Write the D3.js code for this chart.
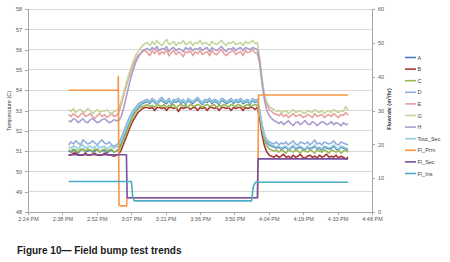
<!DOCTYPE html>
<html><head><meta charset="utf-8">
<script src="https://cdn.jsdelivr.net/npm/d3@7/dist/d3.min.js"></script>
<style>body{margin:0;background:#fff;}svg{display:block;font-family:"Liberation Sans",Arial,sans-serif;}</style>
</head><body><svg id="c" width="450" height="262"></svg>
<script>
// minutes after 2:24 PM; temperature series sampled once a minute starting at minute 17
const startMinute = 17;
const xTickLabels = ["2:24 PM","2:38 PM","2:52 PM","3:07 PM","3:21 PM","3:36 PM","3:50 PM","4:04 PM","4:19 PM","4:33 PM","4:48 PM"];
const leftTicks = [48,49,50,51,52,53,54,55,56,57,58];
const rightTicks = [0,10,20,30,40,50,60];

const A = [51.00,50.95,51.05,51.00,50.90,51.05,51.10,50.95,51.00,51.05,
50.95,51.00,51.10,50.95,51.00,51.05,50.90,51.00,51.05,50.95,
51.00,51.10,51.35,51.65,51.95,52.25,52.55,52.80,53.00,53.15,
53.25,53.35,53.40,53.45,53.35,53.50,53.40,53.30,53.45,53.50,
53.40,53.35,53.50,53.30,53.45,53.40,53.50,53.35,53.45,53.30,
53.50,53.40,53.35,53.45,53.55,53.40,53.30,53.45,53.40,53.50,
53.35,53.45,53.40,53.30,53.50,53.45,53.35,53.40,53.50,53.35,
53.45,53.40,53.50,53.35,53.40,53.45,53.30,53.50,53.40,53.45,
52.90,52.20,51.70,51.40,51.30,51.25,51.20,51.15,51.20,51.10,
51.15,51.20,51.05,51.15,51.25,51.10,51.15,51.20,51.10,51.05,
51.20,51.10,51.15,51.25,51.10,51.15,51.05,51.20,51.15,51.10,
51.15,51.25,51.10,51.05,51.20,51.15,51.10,51.05];
const B = [50.80,50.80,50.90,50.90,50.80,50.80,50.80,50.90,50.80,50.80,
50.85,50.90,50.80,50.80,50.80,50.90,50.85,50.80,50.80,50.75,
50.80,50.85,51.05,51.35,51.65,51.95,52.25,52.50,52.70,52.90,
53.00,53.10,53.15,53.15,53.10,53.15,53.00,53.15,53.15,53.10,
53.15,53.00,53.15,53.15,53.10,53.15,52.95,53.15,53.10,53.15,
53.15,53.05,53.15,53.15,53.00,53.15,53.10,53.15,53.00,53.15,
53.15,53.10,53.15,53.00,53.15,53.15,53.10,53.15,53.00,53.15,
53.10,53.15,53.15,53.00,53.15,53.10,53.15,53.15,53.05,53.15,
52.60,51.80,51.25,50.95,50.80,50.75,50.70,50.80,50.70,50.75,
50.85,50.70,50.75,50.65,50.80,50.70,50.75,50.85,50.70,50.65,
50.75,50.80,50.70,50.75,50.65,50.80,50.70,50.75,50.85,50.70,
50.75,50.70,50.80,50.65,50.75,50.70,50.60,50.70];
const C = [51.05,51.00,51.10,51.05,50.95,51.10,51.05,51.00,51.10,51.05,
51.00,51.10,51.05,50.95,51.05,51.10,51.00,51.05,51.10,50.95,
51.00,51.05,51.25,51.55,51.85,52.15,52.45,52.70,52.90,53.05,
53.15,53.20,53.25,53.30,53.20,53.25,53.15,53.30,53.25,53.20,
53.30,53.15,53.25,53.20,53.30,53.10,53.25,53.30,53.20,53.25,
53.15,53.30,53.25,53.20,53.30,53.25,53.15,53.25,53.30,53.20,
53.25,53.30,53.15,53.25,53.20,53.30,53.25,53.15,53.30,53.25,
53.20,53.30,53.25,53.15,53.25,53.30,53.20,53.25,53.30,53.25,
52.80,52.05,51.55,51.25,51.10,51.05,51.00,51.05,50.95,51.05,
51.00,50.90,51.05,51.00,50.95,51.05,51.00,50.90,51.05,51.00,
50.95,51.05,51.00,50.90,51.05,51.00,50.95,51.05,51.00,50.90,
51.05,51.00,50.95,51.05,50.90,51.00,51.05,50.95];
const D = [51.30,51.45,51.35,51.50,51.40,51.30,51.55,51.45,51.35,51.40,
51.50,51.40,51.30,51.45,51.55,51.40,51.35,51.45,51.30,51.25,
51.30,51.40,51.65,51.95,52.25,52.55,52.80,53.00,53.15,53.30,
53.40,53.45,53.50,53.55,53.45,53.60,53.50,53.40,53.55,53.65,
53.50,53.45,53.60,53.40,53.55,53.50,53.60,53.45,53.55,53.40,
53.60,53.50,53.45,53.55,53.65,53.50,53.40,53.55,53.50,53.60,
53.45,53.55,53.50,53.40,53.60,53.55,53.45,53.50,53.60,53.45,
53.55,53.50,53.60,53.45,53.50,53.55,53.40,53.60,53.50,53.55,
53.00,52.30,51.80,51.55,51.45,51.40,51.35,51.45,51.30,51.40,
51.35,51.45,51.30,51.40,51.50,51.35,51.30,51.45,51.40,51.35,
51.45,51.30,51.40,51.55,51.35,51.40,51.30,51.45,51.40,51.35,
51.40,51.50,51.35,51.30,51.45,51.40,51.35,51.30];
const E = [52.80,52.70,52.85,52.75,52.65,52.80,52.90,52.70,52.75,52.85,
52.70,52.60,52.75,52.85,52.70,52.80,52.65,52.75,52.85,52.70,
52.75,52.90,53.30,53.70,54.15,54.55,54.90,55.25,55.50,55.70,
55.80,55.90,55.95,55.85,55.70,55.95,55.80,56.00,55.75,55.90,
55.80,56.00,55.70,55.85,55.95,55.75,55.90,55.80,55.65,55.90,
55.85,55.95,55.70,55.90,55.80,55.95,55.75,55.85,55.90,55.70,
55.95,55.80,55.75,55.90,56.00,55.80,55.70,55.85,55.90,55.95,
55.75,55.85,55.90,55.70,55.95,55.85,55.90,56.00,55.85,55.80,
55.30,54.40,53.70,53.30,53.05,52.95,52.85,52.80,52.75,52.85,
52.70,52.80,52.65,52.75,52.85,52.70,52.75,52.80,52.65,52.70,
52.80,52.75,52.65,52.85,52.70,52.75,52.80,52.65,52.75,52.80,
52.70,52.85,52.75,52.65,52.80,52.75,52.90,52.75];
const G = [53.05,52.95,53.10,52.90,53.00,53.05,52.90,52.95,53.10,53.00,
52.85,52.95,53.05,52.90,53.00,52.95,53.05,52.90,52.85,52.95,
53.00,53.10,53.45,53.85,54.30,54.70,55.05,55.40,55.70,55.90,
56.05,56.20,56.30,56.35,56.20,56.40,56.25,56.45,56.30,56.20,
56.35,56.50,56.25,56.30,56.40,56.20,56.35,56.30,56.45,56.25,
56.30,56.40,56.20,56.35,56.30,56.45,56.25,56.35,56.30,56.20,
56.40,56.30,56.25,56.35,56.45,56.30,56.20,56.35,56.30,56.40,
56.25,56.30,56.35,56.20,56.40,56.30,56.35,56.45,56.30,56.35,
55.60,54.60,53.80,53.40,53.20,53.10,53.05,52.95,53.00,52.90,
52.95,53.00,52.85,52.95,53.05,52.90,52.95,53.00,52.90,52.85,
53.00,52.95,52.90,53.05,52.95,52.90,53.00,52.85,52.95,53.00,
52.90,53.05,52.95,52.90,53.00,52.95,53.20,53.00];
const H = [52.50,52.45,52.60,52.55,52.40,52.50,52.60,52.45,52.40,52.55,
52.60,52.50,52.40,52.45,52.55,52.60,52.50,52.40,52.45,52.55,
52.50,52.50,52.70,53.10,53.60,54.10,54.60,55.00,55.35,55.60,
55.80,55.95,56.00,56.05,55.95,56.10,56.00,56.15,55.95,56.05,
56.00,56.15,55.90,56.05,56.10,55.95,56.05,56.00,55.90,56.10,
56.00,56.10,55.95,56.05,56.00,56.10,55.95,56.05,56.10,55.90,
56.10,56.00,55.95,56.05,56.15,56.00,55.90,56.05,56.00,56.10,
55.95,56.05,56.10,55.95,56.10,56.05,56.00,56.10,56.05,56.00,
55.40,54.30,53.50,53.00,52.75,52.60,52.50,52.45,52.35,52.45,
52.30,52.40,52.50,52.35,52.25,52.40,52.45,52.30,52.40,52.50,
52.35,52.30,52.45,52.40,52.25,52.35,52.45,52.40,52.30,52.35,
52.45,52.30,52.40,52.35,52.25,52.40,52.30,52.35];
const ToutSec = [51.20,51.15,51.25,51.20,51.10,51.25,51.30,51.15,51.20,51.25,
51.15,51.20,51.30,51.15,51.20,51.25,51.10,51.20,51.25,51.15,
51.20,51.25,51.50,51.80,52.10,52.40,52.65,52.90,53.05,53.20,
53.30,53.40,53.45,53.50,53.40,53.55,53.45,53.35,53.50,53.55,
53.45,53.40,53.55,53.35,53.50,53.45,53.55,53.40,53.50,53.35,
53.55,53.45,53.40,53.50,53.60,53.45,53.35,53.50,53.45,53.55,
53.40,53.50,53.45,53.35,53.55,53.50,53.40,53.45,53.55,53.40,
53.50,53.45,53.55,53.40,53.45,53.50,53.35,53.55,53.45,53.50,
52.95,52.25,51.75,51.50,51.35,51.30,51.25,51.20,51.25,51.15,
51.20,51.25,51.10,51.20,51.30,51.15,51.20,51.25,51.15,51.10,
51.25,51.15,51.20,51.30,51.15,51.20,51.10,51.25,51.20,51.15,
51.20,51.30,51.15,51.10,51.25,51.20,51.15,51.10];

// flow series (right axis): breakpoint times (minutes after 2:24 PM) and values
const flPrmTime = [17,37.7,37.8,38.1,38.6,41.3,41.4,96.2,96.5,134];
const flPrmVal  = [36.0,36.0,40.0,2.0,1.8,1.8,4.2,4.2,34.6,34.6];
const flSecTime = [17,41.2,41.5,96.0,96.3,134];
const flSecVal  = [16.9,16.9,4.2,4.2,15.7,15.7];
const flInsTime = [17,43.3,43.8,44.5,93.6,94.3,95.2,134];
const flInsVal  = [9.0,9.0,4.5,3.3,3.3,7.5,8.8,8.8];

const seriesNames = ["A","B","C","D","E","G","H","Tout_Sec","Fl_Prm","Fl_Sec","Fl_Ins"];
const seriesColors = ["#4a7ebb","#a93835","#98b954","#93aedb","#e8a1a0","#c3d69b","#ac9dcc","#93cddd","#f79646","#7650a2","#4bacc6"];

const svg = d3.select("#c");
const x = d3.scaleLinear().domain([0,144]).range([28,372]);
const yL = d3.scaleLinear().domain([48,58]).range([212,9]);
const yR = d3.scaleLinear().domain([0,60]).range([212,9]);

// gridlines
svg.append("g").selectAll("line").data(leftTicks.slice(1)).join("line")
  .attr("x1",28).attr("x2",372).attr("y1",d=>yL(d)).attr("y2",d=>yL(d))
  .attr("stroke","#d9d9d9").attr("stroke-width",1).attr("shape-rendering","crispEdges");

const axisColor = "#a6a6a6", labelColor = "#595959", fs = "5.5px";
const xTickVals = xTickLabels.map((d,i)=>i*14.4);
const gx = svg.append("g").attr("transform","translate(0,212)")
  .call(d3.axisBottom(x).tickValues(xTickVals).tickFormat((d,i)=>xTickLabels[i]).tickSize(3).tickPadding(2));
const gl = svg.append("g").attr("transform","translate(28,0)")
  .call(d3.axisLeft(yL).tickValues(leftTicks).tickFormat(d3.format("d")).tickSize(3).tickPadding(3));
const gr = svg.append("g").attr("transform","translate(372,0)")
  .call(d3.axisRight(yR).tickValues(rightTicks).tickFormat(d3.format("d")).tickSize(3).tickPadding(3));
[gx,gl,gr].forEach(g=>{
  g.selectAll("path").attr("stroke",axisColor).attr("shape-rendering","crispEdges");
  g.selectAll("line").attr("stroke",axisColor).attr("shape-rendering","crispEdges");
  g.selectAll("text").attr("fill",labelColor).style("font-size",fs).style("font-family","'Liberation Sans',Arial,sans-serif");
});
gl.select(".domain").attr("d","M0,9V212");
gr.select(".domain").attr("d","M0,9V212");

// lines
const tempSeries = [A,B,C,D,E,G,H,ToutSec];
const lineT = d3.line().x(d=>x(d[0])).y(d=>yL(d[1]));
const lineF = d3.line().x(d=>x(d[0])).y(d=>yR(d[1]));
const plot = svg.append("g").attr("fill","none").attr("stroke-linejoin","round").attr("stroke-width",1.6);
tempSeries.forEach((s,k)=>{
  plot.append("path").attr("d",lineT(s.map((v,i)=>[startMinute+i,v]))).attr("stroke",seriesColors[k]);
});
[[flPrmTime,flPrmVal],[flSecTime,flSecVal],[flInsTime,flInsVal]].forEach((p,k)=>{
  plot.append("path").attr("d",lineF(p[0].map((t,i)=>[t,p[1][i]]))).attr("stroke",seriesColors[8+k]);
});

// axis titles
svg.append("text").attr("transform","translate(11,111) rotate(-90)").attr("text-anchor","middle")
  .style("font-size","5.5px").attr("fill","#404040").text("Temperature (C)");
svg.append("text").attr("transform","translate(391,109) rotate(-90)").attr("text-anchor","middle")
  .style("font-size","5.5px").style("font-weight","bold").attr("fill","#404040").text("Flowrate (m³/hr)");

// legend
const lg = svg.append("g");
seriesNames.forEach((n,i)=>{
  const yy = 57.5 + i*11.6;
  lg.append("line").attr("x1",405).attr("x2",416).attr("y1",yy).attr("y2",yy).attr("stroke",seriesColors[i]).attr("stroke-width",1.6);
  lg.append("text").attr("x",417.5).attr("y",yy+2).style("font-size","5.5px").attr("fill","#404040").text(n);
});

// caption
svg.append("text").attr("x",17).attr("y",254).style("font-size","10px").style("font-weight","bold").attr("fill","#1a1a1a")
  .text("Figure 10\u2014 Field bump test trends");
</script></body></html>
